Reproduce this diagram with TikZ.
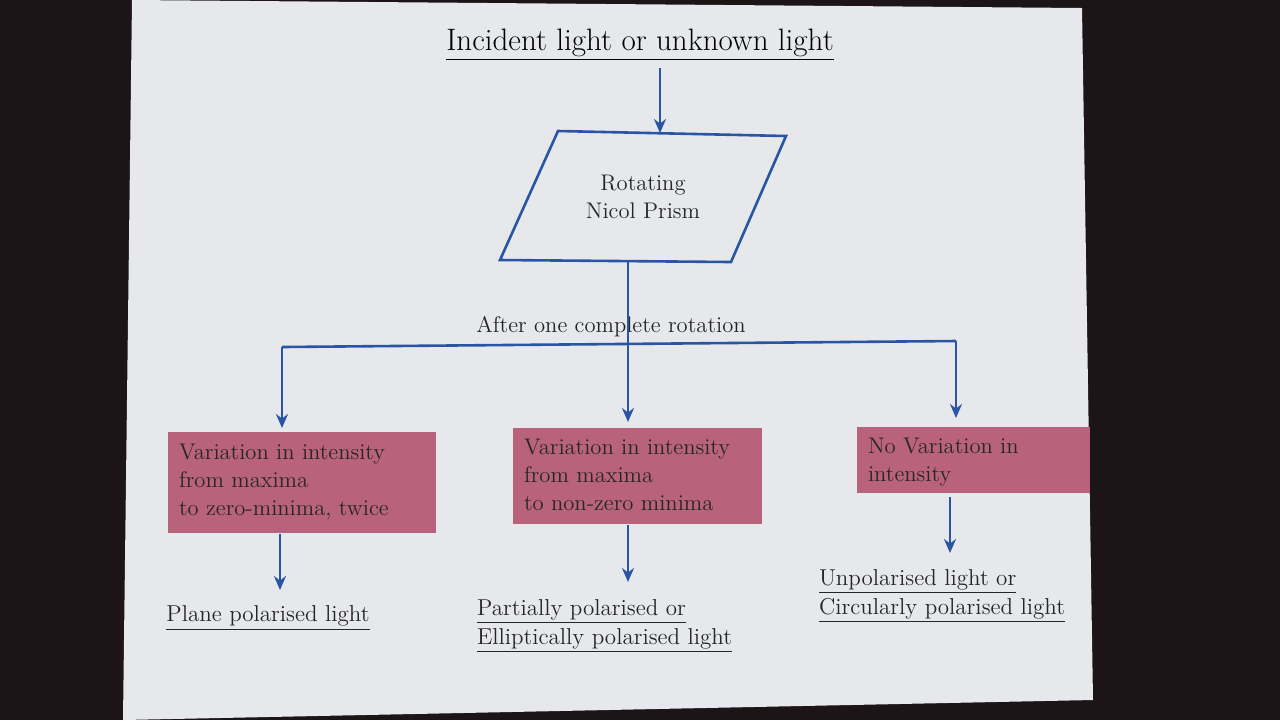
\documentclass[tikz,border=0pt]{standalone}
\usetikzlibrary{arrows.meta}
\begin{document}
\begin{tikzpicture}[x=0.5pt,y=-0.5pt,
  ln/.style={draw=lineblue,line width=1.3pt},
  arr/.style={ln,-{Stealth[length=7pt,width=6pt]}},
  box/.style={fill=boxfill,anchor=north west,inner sep=0pt},
  txt/.style={font=\fontsize{11.3}{14}\selectfont,text=black!85,align=left},
  ul/.style={font=\fontsize{11.5}{13.5}\selectfont,text=black!85,align=left}]
\definecolor{lineblue}{HTML}{2A55A5}
\definecolor{boxfill}{HTML}{B8627C}
\definecolor{bgdark}{HTML}{1C1416}
\definecolor{slide}{HTML}{E6E8EC}
\useasboundingbox (0,0) rectangle (1280,720);
\fill[bgdark] (0,0) rectangle (1280,720);
\fill[slide] (132,0) -- (1082,8) -- (1093,700) -- (123,720) -- cycle;
% title
\node (title) at (640,45) {\fontsize{15.5}{18}\selectfont\underline{Incident light or unknown light}};
% prism
\draw[ln,fill=slide] (558,131) -- (786,136) -- (731,262) -- (500,260) -- cycle;
\node[txt,align=center] (prism) at (643,197) {Rotating\\Nicol Prism};
\coordinate (ptop) at (660,133);
\coordinate (pbot) at (628,262);
\draw[arr] (title.south -| ptop) -- (ptop);
% branches
\node[txt] (after) at (611,327) {After one complete rotation};
\node[box,minimum width=134pt,minimum height=50.5pt] (b1) at (168,432) {};
\node[txt,anchor=north west] at (172,437) {Variation in intensity\\from maxima\\to zero-minima, twice};
\node[box,minimum width=124.5pt,minimum height=48pt] (b2) at (513,428) {};
\node[txt,anchor=north west] at (517,432) {Variation in intensity\\from maxima\\to non-zero minima};
\node[box,minimum width=116.5pt,minimum height=33pt] (b3) at (857,427) {};
\node[txt,anchor=north west] at (861,431) {No Variation in\\intensity};
\coordinate (hl) at (282,347);
\coordinate (hr) at (956,341);
\draw[ln] (hl) -- (hr);
\draw[arr] (hl) -- (282,428);
\draw[arr] (pbot) -- (628,422);
\draw[arr] (hr) -- (956,418);
% results
\node[ul] (r1) at (268,618) {\underline{Plane polarised light}};
\node[ul,anchor=north west] (r2) at (470,592) {\underline{Partially polarised or}\\[1pt]\underline{Elliptically polarised light}};
\node[ul,anchor=north west] (r3) at (812,562) {\underline{Unpolarised light or}\\[1pt]\underline{Circularly polarised light}};
\draw[arr] (b1.south -| 280,0) -- (280,590);
\draw[arr] (b2.south -| 628,0) -- (628,582);
\draw[arr] (950,497) -- (950,553);
\end{tikzpicture}
\end{document}
